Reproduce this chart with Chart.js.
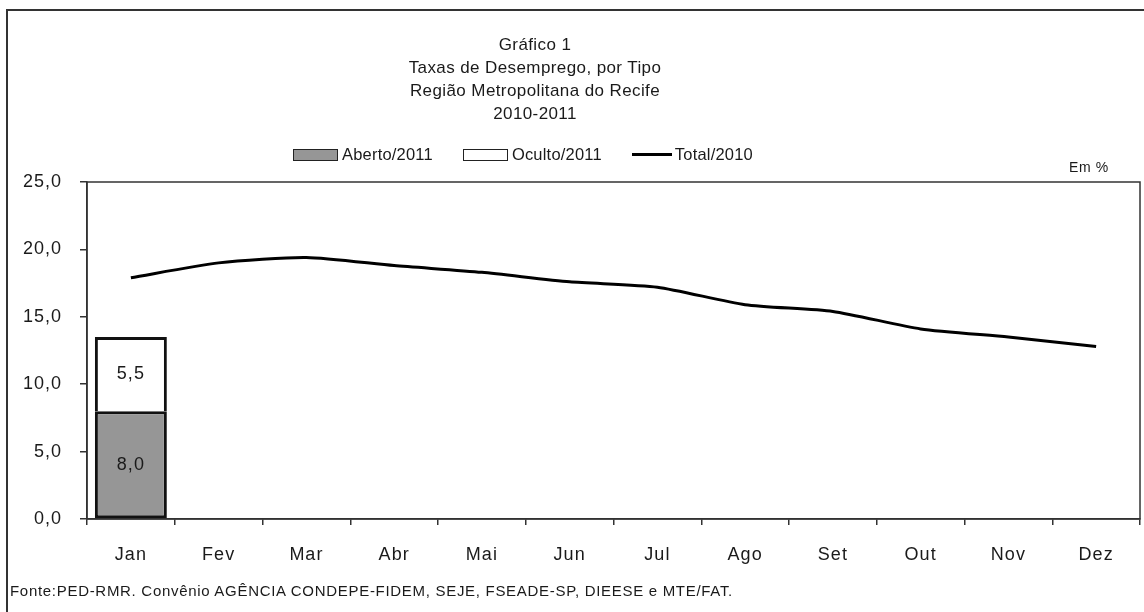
<!DOCTYPE html>
<html lang="pt-BR">
<head>
<meta charset="utf-8">
<script src="https://cdn.jsdelivr.net/npm/chart.js@4.4.1/dist/chart.umd.min.js"></script>
<style>
  html, body { margin: 0; padding: 0; background: #fff; }
  body { width: 1144px; height: 612px; position: relative; overflow: hidden;
         font-family: "Liberation Sans", Arial, sans-serif; color: #1a1a1a; }
  #moldura { position: absolute; left: 6px; top: 9px; width: 1200px; height: 700px;
             border-top: 2px solid #333; border-left: 2px solid #333; }
  #grafico { position: absolute; left: 0; top: 0; }
  #titulo { position: absolute; left: 335px; top: 33px; width: 400px; text-align: center;
            font-size: 17px; line-height: 23px; letter-spacing: 0.4px; }
  #legenda { position: absolute; left: 293px; top: 145px; display: flex; align-items: center;
             font-size: 16.5px; letter-spacing: 0.2px; }
  .item { display: flex; align-items: center; margin-right: 30px; }
  .caixa { width: 45px; height: 12px; border: 1.5px solid #222; margin-right: 4px; box-sizing: border-box; }
  .traco { width: 40px; height: 3px; background: #000; margin-right: 3px; }
  #unidade { position: absolute; left: 1069px; top: 159px; font-size: 14px; letter-spacing: 0.6px; }
  #fonte { position: absolute; left: 10px; top: 582px; font-size: 15px; letter-spacing: 0.7px; }
</style>
</head>
<body>
<div id="moldura"></div>
<canvas id="grafico" width="1144" height="612"></canvas>
<div id="titulo">Gráfico 1<br>Taxas de Desemprego, por Tipo<br>Região Metropolitana do Recife<br>2010-2011</div>
<div id="legenda"></div>
<div id="unidade">Em %</div>
<div id="fonte">Fonte:PED-RMR. Convênio AGÊNCIA CONDEPE-FIDEM, SEJE, FSEADE-SP, DIEESE e MTE/FAT.</div>
<script>
// Dados do gráfico
const meses = ['Jan', 'Fev', 'Mar', 'Abr', 'Mai', 'Jun', 'Jul', 'Ago', 'Set', 'Out', 'Nov', 'Dez'];
const aberto2011 = [8.0, null, null, null, null, null, null, null, null, null, null, null];
const oculto2011 = [5.5, null, null, null, null, null, null, null, null, null, null, null];
const total2010 = [17.9, 19.0, 19.4, 18.8, 18.3, 17.6, 17.2, 15.9, 15.4, 14.1, 13.5, 12.8];
const ticksY = [0, 5, 10, 15, 20, 25];

const corAberto = '#969696';
const corOculto = '#ffffff';
const fonte = '"Liberation Sans", Arial, sans-serif';

function formatar(v) {
    return v.toFixed(1).replace('.', ',');
}

// rótulos dentro das barras + moldura da área do gráfico
const extras = {
    id: 'extras',
    beforeDraw(chart) {
        chart.ctx.letterSpacing = '1px';
    },
    afterDatasetsDraw(chart) {
        const ctx = chart.ctx;
        const area = chart.chartArea;
        ctx.save();
        ctx.strokeStyle = '#333';
        ctx.lineWidth = 1.5;
        ctx.strokeRect(area.left, area.top, area.right - area.left, area.bottom - area.top);

        ctx.fillStyle = '#1a1a1a';
        ctx.font = '18px ' + fonte;
        ctx.textAlign = 'center';
        ctx.textBaseline = 'middle';
        [0, 1].forEach(function(i) {
            const meta = chart.getDatasetMeta(i);
            meta.data.forEach(function(barra, j) {
                const valor = chart.data.datasets[i].data[j];
                if (valor == null) return;
                ctx.fillText(formatar(valor), barra.x, (barra.y + barra.base) / 2);
            });
        });
        ctx.restore();
    }
};

const ctx = document.getElementById('grafico').getContext('2d');
const grafico = new Chart(ctx, {
    data: {
        labels: meses,
        datasets: [
            {
                type: 'bar', label: 'Aberto/2011', data: aberto2011, stack: 'barras',
                backgroundColor: corAberto, borderColor: '#111', borderWidth: 3,
                borderSkipped: false, barPercentage: 0.82, categoryPercentage: 1, order: 2
            },
            {
                type: 'bar', label: 'Oculto/2011', data: oculto2011, stack: 'barras',
                backgroundColor: corOculto, borderColor: '#111',
                borderWidth: { top: 3, left: 3, right: 3, bottom: 0 },
                borderSkipped: false, barPercentage: 0.82, categoryPercentage: 1, order: 2
            },
            {
                type: 'line', label: 'Total/2010', data: total2010, stack: 'linha',
                borderColor: '#000', borderWidth: 3, pointRadius: 0, tension: 0.22,
                fill: false, order: 1
            }
        ]
    },
    options: {
        responsive: false,
        animation: false,
        devicePixelRatio: 1,
        layout: { padding: { left: 0, top: 182, right: 4, bottom: 0 } },
        plugins: {
            legend: { display: false },
            title: { display: false },
            tooltip: { enabled: false }
        },
        scales: {
            x: {
                stacked: true,
                grid: { display: true, drawOnChartArea: false, drawTicks: true, tickLength: 6,
                        offset: true, color: '#333', lineWidth: 1.5 },
                border: { display: true, color: '#333', width: 1.5 },
                ticks: { color: '#1a1a1a', padding: 19, font: { family: fonte, size: 18 } },
                afterFit(scale) { scale.height = 93; }
            },
            y: {
                stacked: true,
                min: 0,
                max: 25,
                afterBuildTicks(scale) { scale.ticks = ticksY.map(v => ({ value: v })); },
                grid: { display: true, drawOnChartArea: false, drawTicks: true, tickLength: 7,
                        color: '#333', lineWidth: 1.5 },
                border: { display: true, color: '#333', width: 1.5 },
                ticks: {
                    color: '#1a1a1a', padding: 18, font: { family: fonte, size: 18 },
                    callback: function(v) { return formatar(v); }
                },
                afterFit(scale) { scale.width = 87; }
            }
        }
    },
    plugins: [extras]
});

// legenda montada a partir dos datasets
const legenda = document.getElementById('legenda');
grafico.data.datasets.forEach(function(ds) {
    const item = document.createElement('div');
    item.className = 'item';
    const marca = document.createElement('div');
    if (ds.type === 'bar') {
        marca.className = 'caixa';
        marca.style.background = ds.backgroundColor;
    } else {
        marca.className = 'traco';
    }
    item.appendChild(marca);
    item.appendChild(document.createTextNode(ds.label));
    legenda.appendChild(item);
});
</script>
</body>
</html>
